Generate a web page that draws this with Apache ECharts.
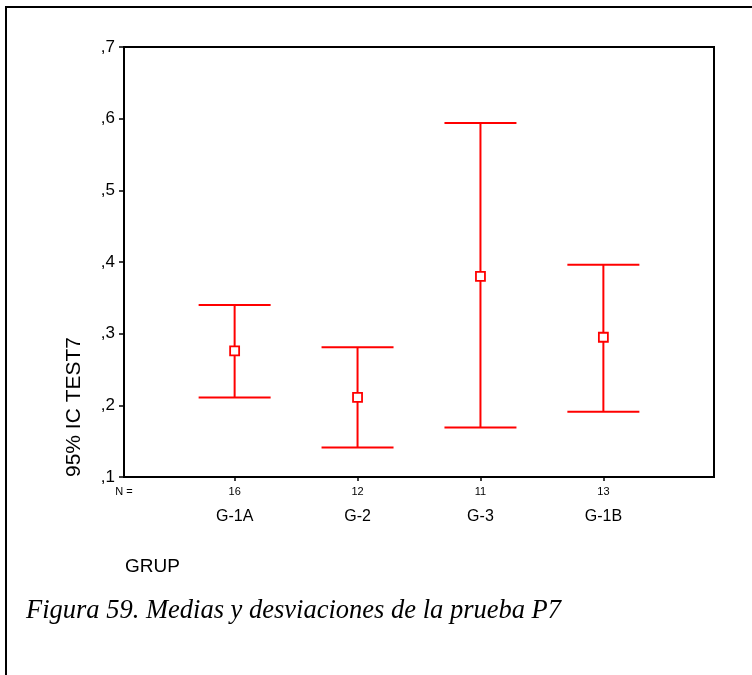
<!DOCTYPE html>
<html>
<head>
<meta charset="utf-8">
<script src="https://cdn.jsdelivr.net/npm/echarts@6/dist/echarts.min.js"></script>
<style>
html,body{margin:0;padding:0;background:#fff;}
#chart{width:752px;height:675px;}
</style>
</head>
<body>
<div id="chart"></div>
<script>
const categories = ['G-1A', 'G-2', 'G-3', 'G-1B'];
const positions = [1, 2, 3, 4];
const nValues = ['16', '12', '11', '13'];
const means = [0.276, 0.211, 0.380, 0.295];
const lowers = [0.211, 0.141, 0.169, 0.191];
const uppers = [0.340, 0.281, 0.594, 0.396];
const yTickLabels = [',1', ',2', ',3', ',4', ',5', ',6', ',7'];
const yTitle = '95% IC TEST7';
const xTitle = 'GRUP';
const caption = 'Figura 59. Medias y desviaciones de la prueba P7';

const RED = '#ff0000';
const FONT = '"Liberation Sans", Arial, sans-serif';

const seriesData = positions.map((p, i) => [p, lowers[i], uppers[i], means[i]]);

const chart = echarts.init(document.getElementById('chart'), null, {renderer: 'canvas'});

chart.setOption({
  animation: false,
  backgroundColor: '#fff',
  grid: {
    left: 124, top: 47, width: 590, height: 430,
    show: true, borderColor: '#000', borderWidth: 2, backgroundColor: 'transparent'
  },
  xAxis: [
    {
      type: 'value', min: 0.1, max: 4.9, position: 'bottom',
      axisLine: {show: false},
      splitLine: {show: false},
      axisTick: {show: true, customValues: positions, length: 4, lineStyle: {color: '#000', width: 1.5}},
      axisLabel: {
        customValues: [0.1].concat(positions),
        margin: 9, fontSize: 11, color: '#000', fontFamily: FONT,
        formatter: function (v) {
          if (v < 0.5) return 'N =';
          return nValues[Math.round(v) - 1];
        }
      }
    },
    {
      type: 'value', min: 0.1, max: 4.9, position: 'bottom',
      axisLine: {show: false},
      splitLine: {show: false},
      axisTick: {show: false},
      axisLabel: {
        customValues: positions,
        margin: 32, fontSize: 16, color: '#000', fontFamily: FONT,
        formatter: function (v) { return categories[Math.round(v) - 1]; }
      }
    }
  ],
  yAxis: {
    type: 'value', min: 0.1, max: 0.7, interval: 0.1,
    axisLine: {show: false},
    splitLine: {show: false},
    axisTick: {show: true, length: 5, lineStyle: {color: '#000', width: 1.5}},
    axisLabel: {
      margin: 9, fontSize: 17, color: '#000', fontFamily: FONT,
      showMinLabel: true, showMaxLabel: true,
      formatter: function (v) { return yTickLabels[Math.round(v * 10) - 1]; }
    }
  },
  graphic: [
    {
      type: 'rect', silent: true, z: 0,
      shape: {x: 6, y: 7, width: 900, height: 900},
      style: {fill: 'none', stroke: '#000', lineWidth: 2}
    },
    {
      type: 'text', x: 74, y: 407, rotation: Math.PI / 2,
      style: {text: yTitle, font: '21px ' + FONT, fill: '#000', textAlign: 'center', textVerticalAlign: 'middle'}
    },
    {
      type: 'text', x: 125, y: 567,
      style: {text: xTitle, font: '19px ' + FONT, fill: '#000', textAlign: 'left', textVerticalAlign: 'middle'}
    },
    {
      type: 'text', x: 26, y: 611,
      style: {text: caption, font: 'italic 26.5px "Liberation Serif", "Times New Roman", serif', fill: '#000', textAlign: 'left', textVerticalAlign: 'middle'}
    }
  ],
  series: [{
    type: 'custom',
    xAxisIndex: 0,
    data: seriesData,
    renderItem: function (params, api) {
      const x = api.value(0);
      const lo = api.coord([x, api.value(1)]);
      const hi = api.coord([x, api.value(2)]);
      const m = api.coord([x, api.value(3)]);
      const hw = 36;
      const ls = {stroke: RED, lineWidth: 2};
      const sq = 9;
      return {
        type: 'group',
        children: [
          {type: 'line', shape: {x1: hi[0], y1: hi[1], x2: lo[0], y2: lo[1]}, style: ls},
          {type: 'line', shape: {x1: hi[0] - hw, y1: hi[1], x2: hi[0] + hw, y2: hi[1]}, style: ls},
          {type: 'line', shape: {x1: lo[0] - hw, y1: lo[1], x2: lo[0] + hw, y2: lo[1]}, style: ls},
          {type: 'rect', shape: {x: m[0] - sq / 2, y: m[1] - sq / 2, width: sq, height: sq},
            style: {fill: '#fff', stroke: RED, lineWidth: 1.8}}
        ]
      };
    }
  }]
});
</script>
</body>
</html>
